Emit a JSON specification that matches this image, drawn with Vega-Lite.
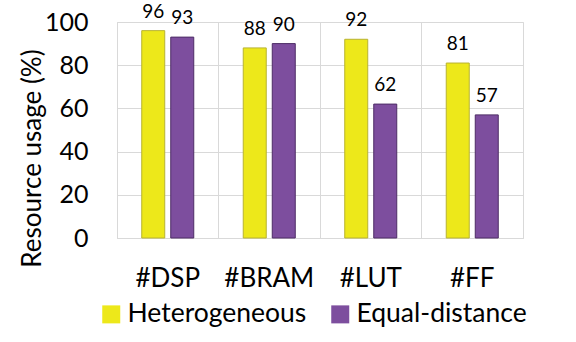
{
  "$schema": "https://vega.github.io/schema/vega-lite/v6.json",
  "autosize": "none",
  "width": 406,
  "height": 216,
  "padding": {"left": 117, "top": 22, "right": 53, "bottom": 104},
  "background": "white",
  "config": {
    "font": "Lato",
    "view": {"stroke": "#d9d9d9", "strokeWidth": 1}
  },
  "data": {
    "values": [
      {"resource": "#DSP", "method": "Heterogeneous", "usage": 96},
      {"resource": "#DSP", "method": "Equal-distance", "usage": 93},
      {"resource": "#BRAM", "method": "Heterogeneous", "usage": 88},
      {"resource": "#BRAM", "method": "Equal-distance", "usage": 90},
      {"resource": "#LUT", "method": "Heterogeneous", "usage": 92},
      {"resource": "#LUT", "method": "Equal-distance", "usage": 62},
      {"resource": "#FF", "method": "Heterogeneous", "usage": 81},
      {"resource": "#FF", "method": "Equal-distance", "usage": 57}
    ]
  },
  "encoding": {
    "x": {
      "field": "resource", "type": "nominal", "sort": null,
      "scale": {"paddingInner": 0, "paddingOuter": 0},
      "axis": {
        "title": null, "labelAngle": 0, "labelFont": "Lato", "labelFontSize": 26,
        "labelColor": "black", "labelPadding": 27, "ticks": false,
        "domainColor": "#d9d9d9", "grid": true, "gridColor": "#d9d9d9",
        "bandPosition": 0
      }
    },
    "xOffset": {
      "field": "method", "type": "nominal",
      "sort": ["Heterogeneous", "Equal-distance"],
      "scale": {"paddingInner": 0.207, "paddingOuter": 0.853}
    },
    "y": {
      "field": "usage", "type": "quantitative",
      "scale": {"domain": [0, 100], "nice": false},
      "axis": {
        "title": "Resource usage (%)", "values": [0, 20, 40, 60, 80, 100],
        "labelFont": "Lato", "labelFontSize": 25, "labelColor": "black",
        "labelPadding": 29, "ticks": false, "domain": false,
        "gridColor": "#d9d9d9",
        "titleFont": "Lato", "titleFontSize": 26, "titleFontWeight": "normal",
        "titleColor": "black", "titleX": -85, "titleY": 136,
        "titleBaseline": "middle", "titleAngle": 270
      }
    }
  },
  "layer": [
    {
      "mark": {"type": "bar", "strokeWidth": 1},
      "encoding": {
        "color": {
          "field": "method", "type": "nominal",
          "sort": ["Heterogeneous", "Equal-distance"],
          "scale": {"domain": ["Heterogeneous", "Equal-distance"], "range": ["#ede81a", "#7d4e9e"]},
          "legend": {
            "title": null, "orient": "none", "direction": "horizontal",
            "legendX": -19, "legendY": 279,
            "symbolType": "square", "symbolSize": 324,
            "symbolStrokeWidth": 0, "labelLimit": 0,
            "labelFont": "Lato", "labelFontSize": 26.5, "labelColor": "black",
            "labelOffset": 3, "columnPadding": 20
          }
        },
        "stroke": {
          "field": "method", "type": "nominal",
          "scale": {"domain": ["Heterogeneous", "Equal-distance"], "range": ["#b8b332", "#4e2d66"]},
          "legend": null
        }
      }
    },
    {
      "mark": {"type": "text", "baseline": "alphabetic", "dy": -13, "fontSize": 19, "font": "Lato", "color": "black"},
      "encoding": {
        "text": {"field": "usage", "type": "quantitative"}
      }
    }
  ]
}
